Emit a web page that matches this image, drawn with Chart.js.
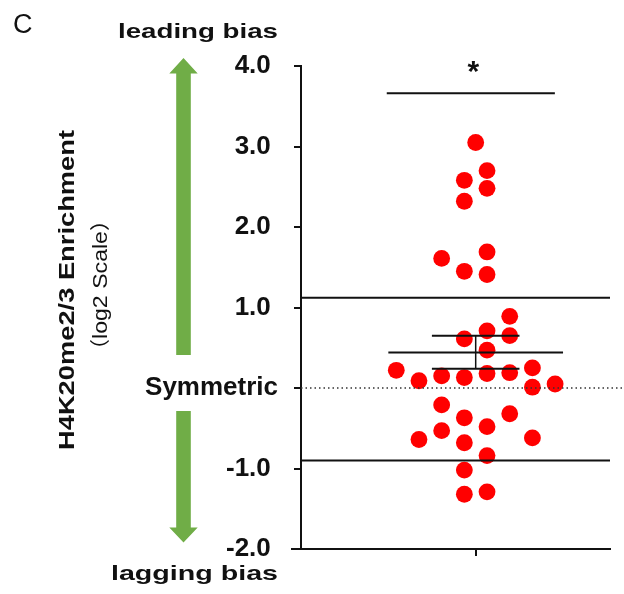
<!DOCTYPE html>
<html>
<head>
<meta charset="utf-8">
<style>
  html, body { margin: 0; padding: 0; background: #fff; }
</style>
<script src="https://cdn.jsdelivr.net/npm/chart.js@4.4.1/dist/chart.umd.min.js"></script>
</head>
<body>
<canvas id="chart1" width="624" height="594"></canvas>
<script>
// beeswarm column of each point (in dot widths from the centre) and its log2 value
const xOffsets = [
  0, 0.5, -0.5, 0.5, -0.5, -1.5, 0.5, -0.5, 0.5,
  1.5, 0.5, 1.5, -0.5, 0.5,
  -3.5, -2.5, -1.5, -0.5, 0.5, 1.5, 2.5, 2.5, 3.5,
  -1.5, -0.5, 1.5, 0.5, -2.5, -1.5, -0.5, 2.5, 0.5,
  -0.5, -0.5, 0.5,
];
const yValues = [
  3.05, 2.70, 2.58, 2.48, 2.32, 1.61, 1.69, 1.45, 1.41,
  0.89, 0.71, 0.65, 0.61, 0.47,
  0.22, 0.09, 0.15, 0.13, 0.18, 0.19, 0.25, 0.01, 0.05,
  -0.21, -0.37, -0.32, -0.48, -0.64, -0.53, -0.68, -0.62, -0.84,
  -1.02, -1.32, -1.29,
];

// summary lines: mean, sem bounds, wide outer lines, significance bar
const meanValue = [0.44];
const semValues = [0.24, 0.65];
const outerLines = [1.12, -0.90];
const sigBar = [3.66];

const yTicks = [-2, -1, 0, 1, 2, 3, 4];
const yRange = [-2, 4];
const xRange = [-7.7, 5.92];

const black = "#111111";
const green = "#70AD47";
const latin = "'Liberation Sans', Arial, sans-serif";
const cjk = "'Noto Sans CJK SC', sans-serif";

function seg(x0, x1, y0, y1, extra) {
  return Object.assign({
    type: "line",
    data: [{ x: x0, y: y0 }, { x: x1, y: y1 }],
    borderColor: black,
    borderWidth: 2,
    pointRadius: 0,
    showLine: true,
    fill: false,
    order: 1,
  }, extra || {});
}

const points = xOffsets.map((x, i) => ({ x: x, y: yValues[i] }));

// text runs fitted to a target width, the figure font runs wide
function fitText(ctx, parts, x, y, width, rot) {
  ctx.save();
  let total = 0;
  parts.forEach((p) => {
    ctx.font = p.font;
    p.w = ctx.measureText(p.text).width;
    total += p.w;
  });
  ctx.translate(x, y);
  if (rot) ctx.rotate(rot);
  ctx.scale(width / total, 1);
  ctx.textAlign = "left";
  ctx.textBaseline = "alphabetic";
  ctx.fillStyle = black;
  let cx = -total / 2;
  parts.forEach((p) => {
    ctx.font = p.font;
    ctx.fillText(p.text, cx, 0);
    cx += p.w;
  });
  ctx.restore();
}

function arrow(ctx, cx, tipY, baseY, endY, halfHead, halfShaft) {
  ctx.beginPath();
  ctx.moveTo(cx, tipY);
  ctx.lineTo(cx + halfHead, baseY);
  ctx.lineTo(cx + halfShaft, baseY);
  ctx.lineTo(cx + halfShaft, endY);
  ctx.lineTo(cx - halfShaft, endY);
  ctx.lineTo(cx - halfShaft, baseY);
  ctx.lineTo(cx - halfHead, baseY);
  ctx.closePath();
  ctx.fill();
}

const decor = {
  id: "decor",
  afterDraw(chart) {
    const ctx = chart.ctx;
    const xs = chart.scales.x;
    const ys = chart.scales.y;
    const area = chart.chartArea;

    // x axis line runs a bit past the y axis
    ctx.save();
    ctx.strokeStyle = black;
    ctx.lineWidth = 2;
    ctx.beginPath();
    ctx.moveTo(area.left - 10, area.bottom);
    ctx.lineTo(area.left, area.bottom);
    ctx.stroke();
    ctx.restore();

    // green bias arrows
    ctx.save();
    ctx.fillStyle = green;
    arrow(ctx, 183.5, 58, 73.5, 355, 14.2, 7.3);
    arrow(ctx, 183.5, 542.5, 527.5, 411, 14.2, 7.3);
    ctx.restore();

    ctx.save();
    ctx.font = "27px " + latin;
    ctx.fillStyle = black;
    ctx.textBaseline = "alphabetic";
    ctx.fillText("C", 13, 33);
    ctx.restore();

    const b21 = "bold 21px " + latin;
    fitText(ctx, [{ text: "leading bias", font: b21 }], 198, 38, 160);
    fitText(ctx, [{ text: "lagging bias", font: b21 }], 194.5, 580, 167);

    fitText(ctx, [{ text: "H4K20me2/3 Enrichment", font: "bold 22px " + latin }], 73.5, 290, 320, -Math.PI / 2);
    fitText(ctx, [
      { text: "\uFF08", font: "20px " + cjk },
      { text: "log2 Scale", font: "21px " + latin },
      { text: "\uFF09", font: "20px " + cjk },
    ], 107, 285, 152, -Math.PI / 2);

    // significance star above the bar
    ctx.save();
    ctx.font = "bold 30px " + latin;
    ctx.fillStyle = black;
    ctx.textAlign = "center";
    ctx.textBaseline = "middle";
    ctx.fillText("*", xs.getPixelForValue(-0.1), ys.getPixelForValue(sigBar[0]) - 21);
    ctx.restore();
  },
};

const config1 = {
  type: "scatter",
  data: {
    datasets: [
      {
        type: "scatter",
        data: points,
        backgroundColor: "#FF0000",
        borderWidth: 0,
        pointRadius: 8.4,
        pointHoverRadius: 8.4,
        order: 2,
      },
      seg(-3.85, 3.85, meanValue[0], meanValue[0]),
      seg(-1.93, 1.93, semValues[0], semValues[0]),
      seg(-1.93, 1.93, semValues[1], semValues[1]),
      seg(0, 0, semValues[0], semValues[1], { borderWidth: 1.5 }),
      seg(xRange[0], xRange[1], outerLines[0], outerLines[0]),
      seg(xRange[0], xRange[1], outerLines[1], outerLines[1]),
      seg(-3.92, 3.49, sigBar[0], sigBar[0]),
      seg(xRange[0], 6.45, 0, 0, { borderWidth: 1.3, borderDash: [1.5, 3], borderColor: "#333", clip: false }),
    ],
  },
  options: {
    responsive: false,
    animation: false,
    events: [],
    layout: { padding: { top: 66, right: 14, left: 0, bottom: 0 } },
    plugins: { legend: { display: false }, tooltip: { enabled: false } },
    scales: {
      x: {
        type: "linear",
        min: xRange[0],
        max: xRange[1],
        afterBuildTicks: (scale) => { scale.ticks = [{ value: 0 }]; },
        afterFit: (scale) => { scale.height = 45; },
        ticks: { display: false },
        grid: { drawOnChartArea: false, drawTicks: true, tickLength: 7, color: black, lineWidth: 2 },
        border: { display: true, color: black, width: 2 },
      },
      y: {
        min: yRange[0],
        max: yRange[1],
        afterBuildTicks: (scale) => { scale.ticks = yTicks.map((v) => ({ value: v })); },
        afterFit: (scale) => { scale.width = 301; },
        ticks: {
          padding: 16,
          color: black,
          font: { family: latin, size: 26, weight: "bold" },
          callback: (v) => (v === 0 ? "Symmetric" : v.toFixed(1) + " "),
        },
        grid: { drawOnChartArea: false, drawTicks: true, tickLength: 7, color: black, lineWidth: 2 },
        border: { display: true, color: black, width: 2 },
      },
    },
  },
  plugins: [decor],
};

const myChart = new Chart(document.getElementById("chart1"), config1);
</script>
</body>
</html>
